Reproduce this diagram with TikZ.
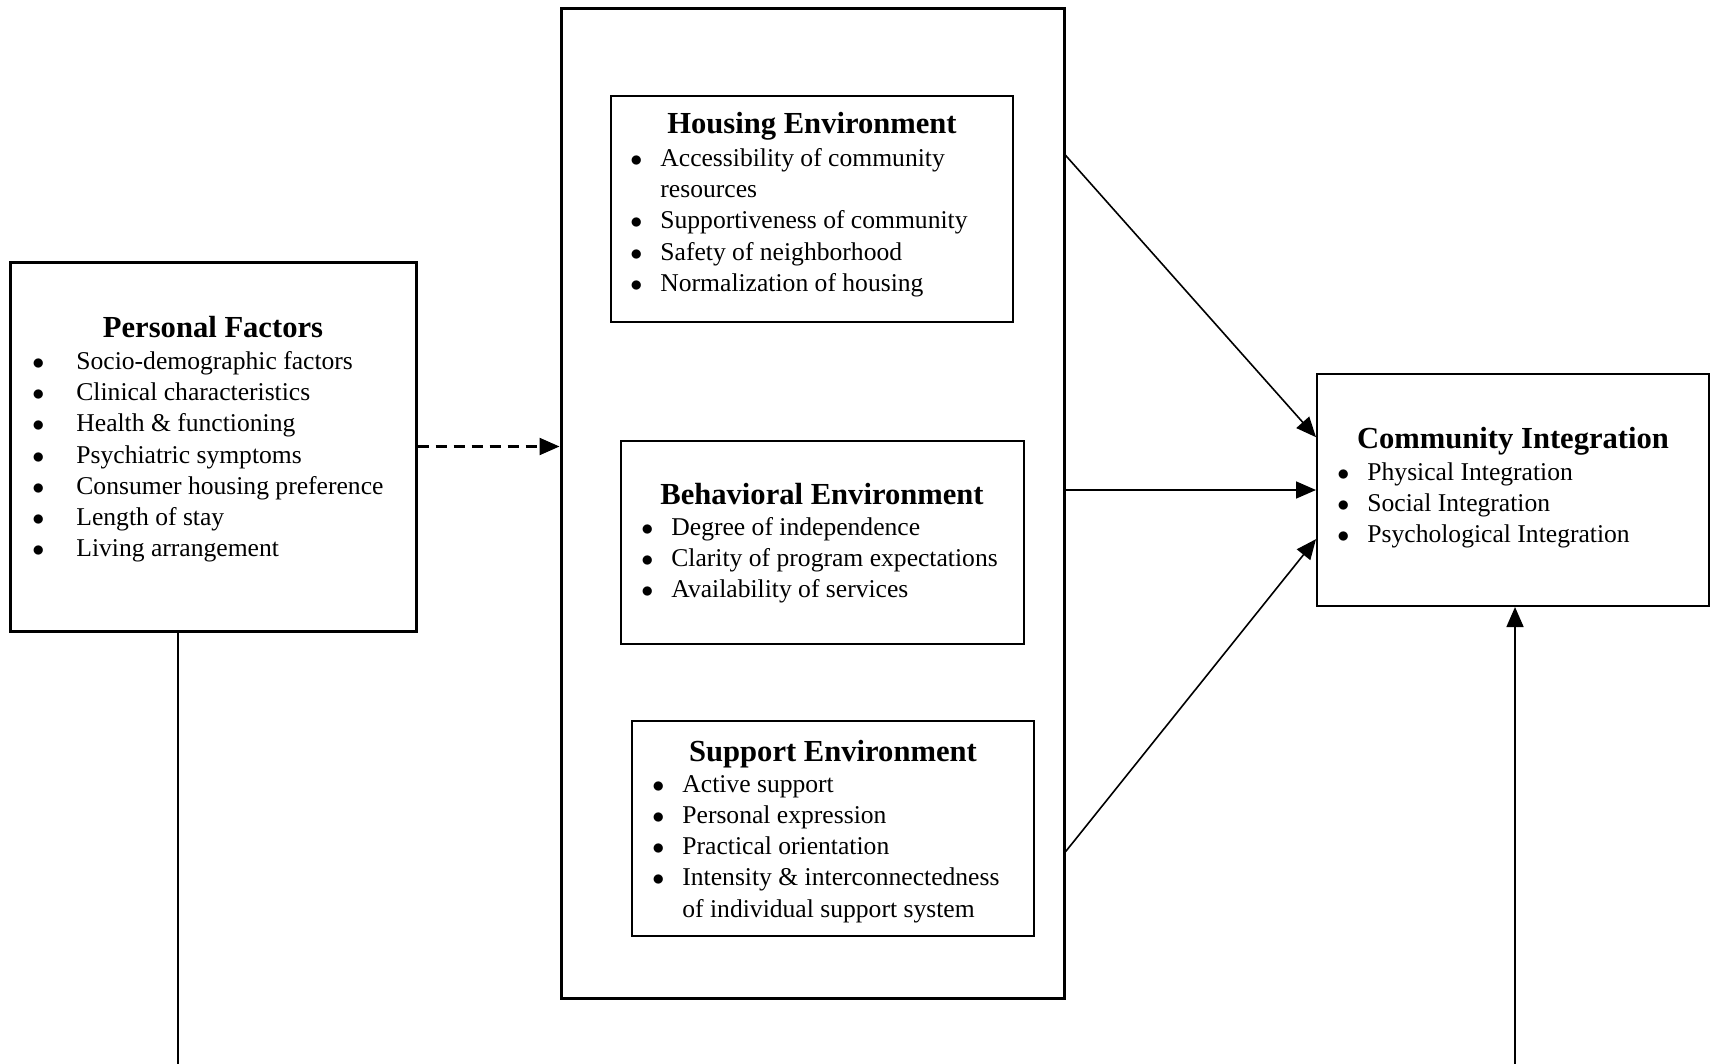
\documentclass[tikz,border=0pt]{standalone}
\usepackage{fontspec}
\setmainfont{Liberation Serif}
\usetikzlibrary{arrows.meta,fit,positioning}
\newcommand{\pfitem}[1]{\makebox[22pt][l]{$\bullet$}#1}
\newcommand{\envitem}[1]{\makebox[15pt][l]{$\bullet$}#1}

\begin{document}
\begin{tikzpicture}[x=0.5pt,y=-0.5pt]
	\tikzset{bigbox/.style={draw, line width=1.5pt, inner sep=0pt},
		smallbox/.style={draw, line width=1pt, inner sep=0pt},
		boxtitle/.style={font=\fontsize{15.3}{17}\selectfont\bfseries, inner sep=0pt},
		boxlist/.style={font=\fontsize{12.8}{15.6}\selectfont, align=left, inner sep=0pt, anchor=north west},
		link/.style={line width=0.8pt, -{Triangle[length=10pt,width=8.5pt]}}}
	\useasboundingbox (0,0) rectangle (1711,1064);
	%Personal Factors
	\node[bigbox, fit={(10,262) (416,631)}] (pf) {};
	\node[boxtitle] (pftitle) at (213,327) {Personal Factors};
	\node[boxlist] (pflist) at (32,351) {\pfitem{Socio-demographic factors}\\
		\pfitem{Clinical characteristics}\\
		\pfitem{Health \& functioning}\\
		\pfitem{Psychiatric symptoms}\\
		\pfitem{Consumer housing preference}\\
		\pfitem{Length of stay}\\
		\pfitem{Living arrangement}};
	
	%Umwelt
	\node[bigbox, fit={(561,9) (1064,998)}] (env) {};
	\node[smallbox, fit={(611,96) (1013,322)}] (housing) {};
	\node[boxtitle] (housingtitle) at (812,126) {Housing Environment};
	\node[boxlist] (housinglist) at (630,148) {\envitem{Accessibility of community}\\
		\hspace*{15pt}resources\\
		\envitem{Supportiveness of community}\\
		\envitem{Safety of neighborhood}\\
		\envitem{Normalization of housing}};
	
	\node[smallbox, fit={(621,441) (1024,644)}] (behav) {};
	\node[boxtitle] (behavtitle) at (822,494) {Behavioral Environment};
	\node[boxlist] (behavlist) at (641,517) {\envitem{Degree of independence}\\
		\envitem{Clarity of program expectations}\\
		\envitem{Availability of services}};
	
	\node[smallbox, fit={(632,721) (1034,936)}] (support) {};
	\node[boxtitle] (supporttitle) at (833,754) {Support Environment};
	\node[boxlist] (supportlist) at (652,775) {\envitem{Active support}\\
		\envitem{Personal expression}\\
		\envitem{Practical orientation}\\
		\envitem{Intensity \& interconnectedness}\\
		\hspace*{15pt}of individual support system};
	
	%Community Integration
	\node[smallbox, fit={(1317,374) (1709,606)}] (ci) {};
	\node[boxtitle] (cititle) at (1513,441) {Community Integration};
	\node[boxlist] (cilist) at (1337,462) {\envitem{Physical Integration}\\
		\envitem{Social Integration}\\
		\envitem{Psychological Integration}};
	
	%Pfeile
	\draw[link, dash pattern=on 5.5pt off 3.5pt, line width=1.1pt] (pf.east) -- (pf.east -| env.west);
	\draw[link] (env.54.6) -- (ci.165.8);
	\draw[link] (env.east |- ci.west) -- (ci.west);
	\draw[link] (env.-54.6) -- (ci.194.8);
	\coordinate (pfdown) at (178,1064);
	\coordinate (ciup) at (1515,1064);
	\draw[line width=0.8pt] (pfdown |- pf.south) -- (pfdown);
	\draw[link] (ciup) -- (ciup |- ci.south);
	
\end{tikzpicture}
\end{document}
